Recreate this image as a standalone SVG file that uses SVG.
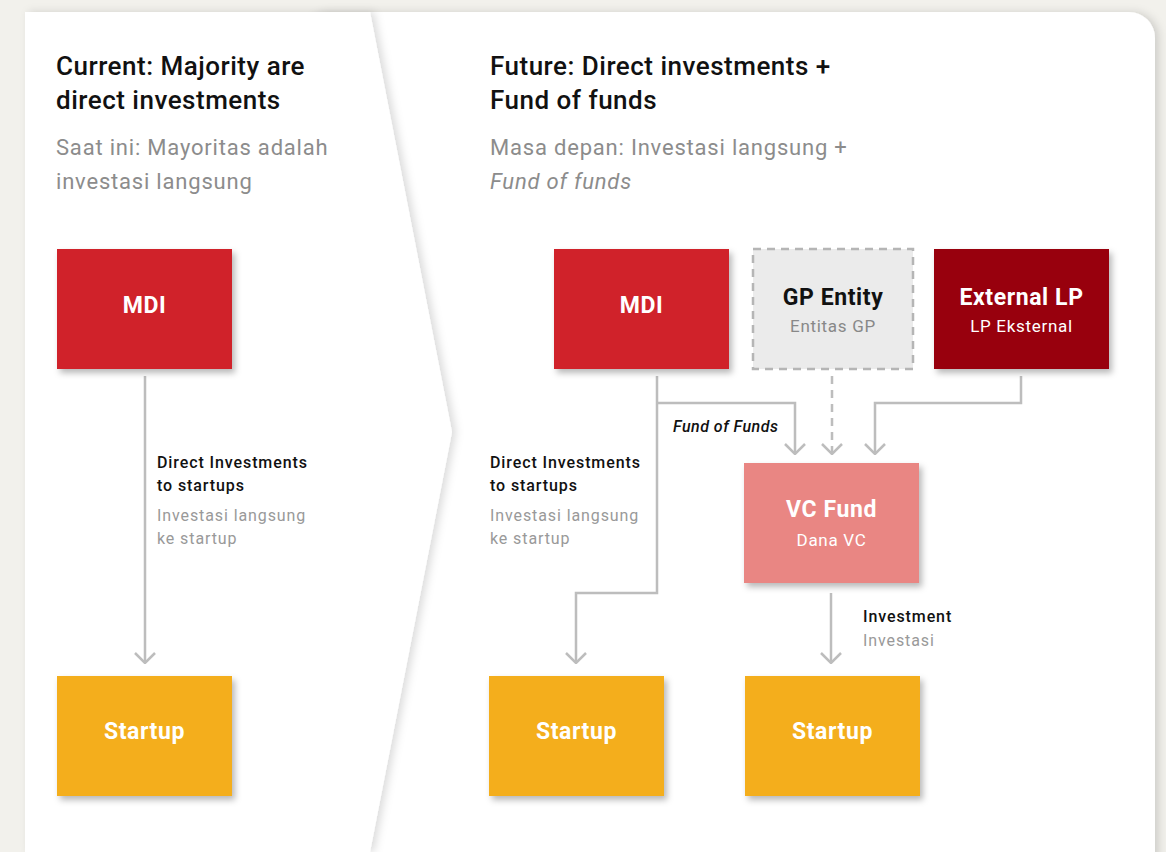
<svg xmlns="http://www.w3.org/2000/svg" width="1166" height="852" viewBox="0 0 1166 852">
<style>
text{font-family:Roboto,"Liberation Sans",sans-serif}
.title{font-size:26px;font-weight:500;fill:#111;letter-spacing:0.5px}
.sub{font-size:22px;fill:#8c8c8c;letter-spacing:0.8px}
.nlab{font-size:23px;font-weight:700;fill:#fff;text-anchor:middle;letter-spacing:0.6px}
.nsub{font-size:17px;fill:#fff;text-anchor:middle;letter-spacing:0.7px}
.elab{font-size:16px;font-weight:500;fill:#111;letter-spacing:0.9px}
.esub{font-size:16px;fill:#999;letter-spacing:0.9px}
.conn{fill:none;stroke:#bdbdbd;stroke-width:2.5}
.dash{stroke-dasharray:8 6}
</style>
<defs>
<filter id="sh" x="-20%" y="-20%" width="140%" height="150%">
<feDropShadow dx="3" dy="4" stdDeviation="3" flood-color="#000" flood-opacity="0.28"/>
</filter>
<filter id="psh" x="-10%" y="-10%" width="120%" height="120%">
<feDropShadow dx="4" dy="0" stdDeviation="4" flood-color="#000" flood-opacity="0.14"/>
</filter>
<marker id="ah" viewBox="0 0 12 22" refX="11" refY="11" markerWidth="12" markerHeight="22" markerUnits="userSpaceOnUse" orient="auto">
<path d="M1 1 L11 11 L1 21" fill="none" stroke="#bdbdbd" stroke-width="2.5"/>
</marker>
</defs>
<rect width="1166" height="852" fill="#f2f1ec"/>
<g id="panels">
<rect x="300" y="12" width="855" height="880" rx="26" fill="#fff" filter="url(#psh)"/>
<polygon points="25,12 370,12 452,432 370,852 25,852" fill="#fff" filter="url(#psh)"/>
</g>
<g id="headings">
<text class="title" x="56" y="75">Current: Majority are</text>
<text class="title" x="56" y="109">direct investments</text>
<text class="sub" x="56" y="155">Saat ini: Mayoritas adalah</text>
<text class="sub" x="56" y="189">investasi langsung</text>
<text class="title" x="490" y="75">Future: Direct investments +</text>
<text class="title" x="490" y="109">Fund of funds</text>
<text class="sub" x="490" y="155">Masa depan: Investasi langsung +</text>
<text class="sub" x="490" y="189" font-style="italic">Fund of funds</text>
</g>
<g id="connectors">
<path class="conn" d="M145 376 V663" marker-end="url(#ah)"/>
<path class="conn" d="M657 376 V593 H576 V663" marker-end="url(#ah)"/>
<path class="conn" d="M657 403 H795 V454" marker-end="url(#ah)"/>
<path class="conn dash" d="M832 376 V454" marker-end="url(#ah)"/>
<path class="conn" d="M1021 376 V403 H875 V454" marker-end="url(#ah)"/>
<path class="conn" d="M831 593 V663" marker-end="url(#ah)"/>
</g>
<g id="edge-labels">
<text class="elab" x="157" y="468">Direct Investments</text>
<text class="elab" x="157" y="491">to startups</text>
<text class="esub" x="157" y="521">Investasi langsung</text>
<text class="esub" x="157" y="544">ke startup</text>
<text class="elab" x="490" y="468">Direct Investments</text>
<text class="elab" x="490" y="491">to startups</text>
<text class="esub" x="490" y="521">Investasi langsung</text>
<text class="esub" x="490" y="544">ke startup</text>
<text class="elab" x="673" y="432" font-size="14" font-style="italic" style="letter-spacing:0.5px">Fund of Funds</text>
<text class="elab" x="863" y="622">Investment</text>
<text class="esub" x="863" y="646">Investasi</text>
</g>
<g id="mdi-current">
<rect x="57" y="249" width="175" height="120" fill="#d0232b" filter="url(#sh)"/>
<text class="nlab" x="144.5" y="313">MDI</text>
</g>
<g id="startup-current">
<rect x="57" y="676" width="175" height="120" fill="#f4ae1f" filter="url(#sh)"/>
<text class="nlab" x="144.5" y="739">Startup</text>
</g>
<g id="mdi-future">
<rect x="554" y="249" width="175" height="120" fill="#d0232b" filter="url(#sh)"/>
<text class="nlab" x="641.5" y="313">MDI</text>
</g>
<g id="gp-entity">
<rect x="753" y="249" width="160" height="120" fill="#ebebeb" stroke="#b5b5b5" stroke-width="2.5" stroke-dasharray="8 6"/>
<text class="nlab" x="833" y="305" style="fill:#111">GP Entity</text>
<text class="nsub" x="833" y="332" style="fill:#888">Entitas GP</text>
</g>
<g id="external-lp">
<rect x="934" y="249" width="175" height="120" fill="#98050f" filter="url(#sh)"/>
<text class="nlab" x="1021.5" y="305">External LP</text>
<text class="nsub" x="1021.5" y="332">LP Eksternal</text>
</g>
<g id="vc-fund">
<rect x="744" y="463" width="175" height="120" fill="#e98683" filter="url(#sh)"/>
<text class="nlab" x="831.5" y="517">VC Fund</text>
<text class="nsub" x="831.5" y="546">Dana VC</text>
</g>
<g id="startup-direct">
<rect x="489" y="676" width="175" height="120" fill="#f4ae1f" filter="url(#sh)"/>
<text class="nlab" x="576.5" y="739">Startup</text>
</g>
<g id="startup-vc">
<rect x="745" y="676" width="175" height="120" fill="#f4ae1f" filter="url(#sh)"/>
<text class="nlab" x="832.5" y="739">Startup</text>
</g>
</svg>
